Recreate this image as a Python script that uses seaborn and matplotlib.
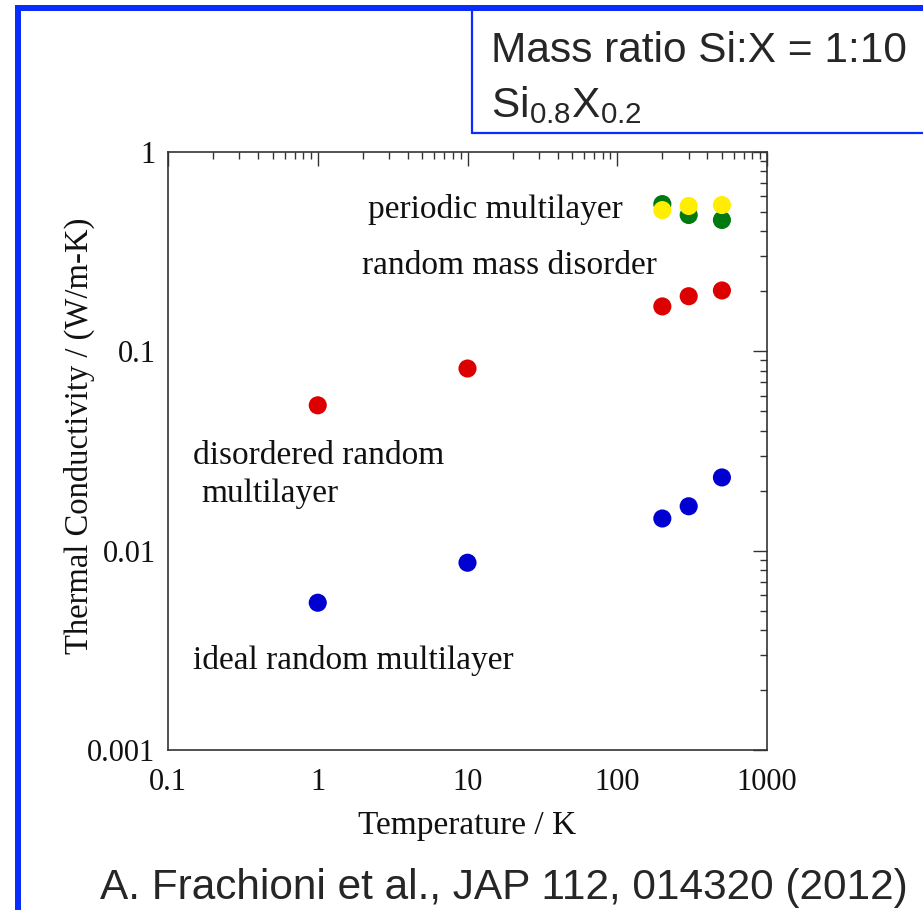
import matplotlib
matplotlib.use("Agg")
import matplotlib.pyplot as plt
import seaborn as sns
import pandas as pd
import numpy as np
from matplotlib.patches import Rectangle
from matplotlib.lines import Line2D

# ---- data ----
temps_low = [1, 10, 200, 300, 500]
temps_high = [200, 300, 500]
ideal_random = [0.00548, 0.0087, 0.0145, 0.0167, 0.0233]
disordered_random = [0.0536, 0.082, 0.168, 0.189, 0.202]
random_mass = [0.548, 0.483, 0.456]
periodic = [0.511, 0.536, 0.542]

series_names = ["ideal", "disordered", "random_mass", "periodic"]
colors = {"ideal": "#0000d0", "disordered": "#dd0000",
          "random_mass": "#007a10", "periodic": "#ffee00"}

x_ticks = [0.1, 1, 10, 100, 1000]
x_tick_labels = ["0.1", "1", "10", "100", "1000"]
y_ticks = [0.001, 0.01, 0.1, 1]
y_tick_labels = ["0.001", "0.01", "0.1", "1"]

df = pd.concat([
    pd.DataFrame({"T": temps_low, "k": ideal_random, "s": "ideal"}),
    pd.DataFrame({"T": temps_low, "k": disordered_random, "s": "disordered"}),
    pd.DataFrame({"T": temps_high, "k": random_mass, "s": "random_mass"}),
    pd.DataFrame({"T": temps_high, "k": periodic, "s": "periodic"}),
], ignore_index=True)

sns.set_style("white")
plt.rcParams["font.family"] = ["Liberation Serif", "DejaVu Serif"]
plt.rcParams["mathtext.fontset"] = "custom"
plt.rcParams["mathtext.rm"] = "Liberation Sans"

W, H = 923, 910
fig = plt.figure(figsize=(W / 100, H / 100), dpi=100)
ax = fig.add_axes([168 / W, 1 - 750 / H, (767 - 168) / W, (750 - 152) / H])

for name in series_names:
    sub = df[df["s"] == name]
    sns.scatterplot(data=sub, x="T", y="k", color=colors[name], s=170,
                    edgecolor="none", linewidth=0, ax=ax, legend=False, zorder=3)

ax.set_xscale("log")
ax.set_yscale("log")
ax.set_xlim(0.1, 1000)
ax.set_ylim(0.001, 1)
ax.set_xticks(x_ticks)
ax.set_xticklabels(x_tick_labels)
ax.set_yticks(y_ticks)
ax.set_yticklabels(y_tick_labels)
ax.tick_params(axis="both", which="major", direction="in", length=10, width=1,
               top=True, right=True, labelsize=22, color="#333333",
               labelcolor="#111111")
ax.tick_params(axis="x", which="major", pad=13)
ax.tick_params(axis="y", which="major", pad=9)
ax.tick_params(axis="both", which="minor", direction="in", length=5, width=1,
               top=True, right=True, color="#333333")
for sp in ax.spines.values():
    sp.set_linewidth(1.2)
    sp.set_color("#333333")
    sp.set_visible(True)
ax.set_xlabel("Temperature / K", fontsize=24, color="#111111")
ax.set_ylabel("Thermal Conductivity / (W/m-K)", fontsize=23.5, color="#111111")
ax.xaxis.set_label_coords(0.5, -0.102)
ax.yaxis.set_label_coords(-0.122, 0.525)

# annotations (data coordinates)
tf = dict(fontsize=24, color="#111111", ha="left", va="center")
ax.text(2.15, 0.515, "periodic multilayer", **tf)
ax.text(1.97, 0.268, "random mass disorder", **tf)
ax.text(0.147, 0.0298, "disordered random", **tf)
ax.text(0.166, 0.0192, "multilayer", **tf)
ax.text(0.147, 0.00282, "ideal random multilayer", **tf)

# slide frame
blue = "#0a2dff"
fig.add_artist(Rectangle((15 / W, 0), 6 / W, 1 - 5 / H, transform=fig.transFigure,
                         color=blue, lw=0))
fig.add_artist(Rectangle((15 / W, 1 - 11 / H), 1 - 15 / W, 6 / H, transform=fig.transFigure,
                         color=blue, lw=0))
fig.add_artist(Line2D([472 / W, 472 / W], [1 - 133 / H, 1 - 11 / H],
                      transform=fig.transFigure, color=blue, lw=1.6))
fig.add_artist(Line2D([472 / W, 1], [1 - 133 / H, 1 - 133 / H],
                      transform=fig.transFigure, color=blue, lw=1.6))

sans = ["Liberation Sans", "DejaVu Sans"]
fig.text(491 / W, 1 - 62 / H, "Mass ratio Si:X = 1:10", fontsize=30.5, family=sans,
         ha="left", va="baseline")
fig.text(491 / W, 1 - 117 / H, r"Si$_{0.8}$X$_{0.2}$", fontsize=30.5, family=sans,
         ha="left", va="baseline")
fig.text(100 / W, 1 - 899 / H, "A. Frachioni et al., JAP 112, 014320 (2012)",
         fontsize=30.5, family=sans, ha="left", va="baseline")

fig.savefig("out.png", dpi=100)
